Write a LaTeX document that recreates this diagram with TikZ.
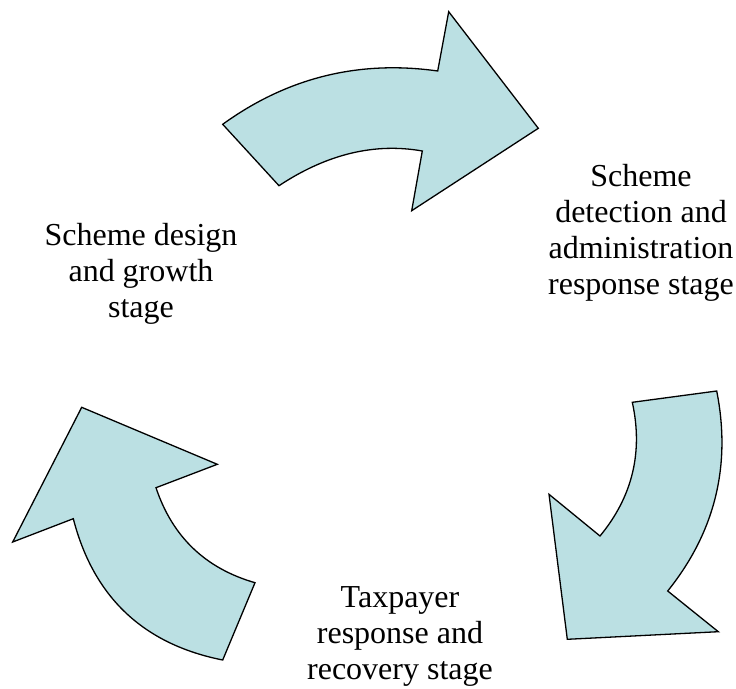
\documentclass[tikz,border=0pt]{standalone}
\usepackage{fontspec}
\setmainfont{Liberation Serif}
\usetikzlibrary{calc}
\definecolor{arrowfill}{RGB}{187,224,227}
\tikzset{
  cyclearrow/.style={fill=arrowfill, draw=black, line width=1.3pt, line join=miter},
  stagelabel/.style={align=center, font=\fontsize{32}{36}\selectfont, inner sep=0pt}
}
\newcommand{\qcurve}[3]{.. controls ($(#1)!2/3!(#2)$) and ($(#3)!2/3!(#2)$) .. (#3)}
\begin{document}
\begin{tikzpicture}[x=1pt,y=-1pt]
\useasboundingbox (0,0) rectangle (736,688);
% arrow 1 (top)
\coordinate (a1t) at (222.7,124.3);
\coordinate (a1q) at (319.4,54.3);
\coordinate (a1n) at (437.7,71);
\coordinate (a1h) at (448.7,11.7);
\coordinate (a1p) at (538.3,128.3);
\coordinate (a1b) at (411.7,210.7);
\coordinate (a1m) at (422.3,151);
\coordinate (a1r) at (350.7,138.3);
\coordinate (a1s) at (279,185.7);
\draw[cyclearrow] (a1t) \qcurve{a1t}{a1q}{a1n} -- (a1h) -- (a1p) -- (a1b) -- (a1m) \qcurve{a1m}{a1r}{a1s} -- cycle;
% arrow 2 (right)
\coordinate (a2t) at (716.7,391);
\coordinate (a2s) at (632.3,402.3);
\coordinate (a2r) at (648.7,477);
\coordinate (a2m) at (600,536);
\coordinate (a2h) at (549,494.3);
\coordinate (a2p) at (567.3,639.3);
\coordinate (a2b) at (718.3,631.7);
\coordinate (a2n) at (667.7,591);
\coordinate (a2q) at (738.8,502.4);
\draw[cyclearrow] (a2t) -- (a2s) \qcurve{a2s}{a2r}{a2m} -- (a2h) -- (a2p) -- (a2b) -- (a2n) \qcurve{a2n}{a2q}{a2t} -- cycle;
% arrow 3 (left)
\coordinate (a3t) at (222.7,660);
\coordinate (a3s) at (255,582.7);
\coordinate (a3r) at (180.5,561.2);
\coordinate (a3m) at (156,487.7);
\coordinate (a3h) at (217.3,464.3);
\coordinate (a3p) at (81.7,407.3);
\coordinate (a3b) at (12.7,542);
\coordinate (a3n) at (73.3,518.7);
\coordinate (a3q) at (103.6,636.3);
\draw[cyclearrow] (a3t) -- (a3s) \qcurve{a3s}{a3r}{a3m} -- (a3h) -- (a3p) -- (a3b) -- (a3n) \qcurve{a3n}{a3q}{a3t} -- cycle;
% labels
\node[stagelabel] (design) at (141,274) {Scheme design\\and growth\\stage};
\node[stagelabel] (detect) at (641,232.5) {Scheme\\detection and\\administration\\response stage};
\node[stagelabel] (taxpayer) at (400,636) {Taxpayer\\response and\\recovery stage};
\end{tikzpicture}
\end{document}
